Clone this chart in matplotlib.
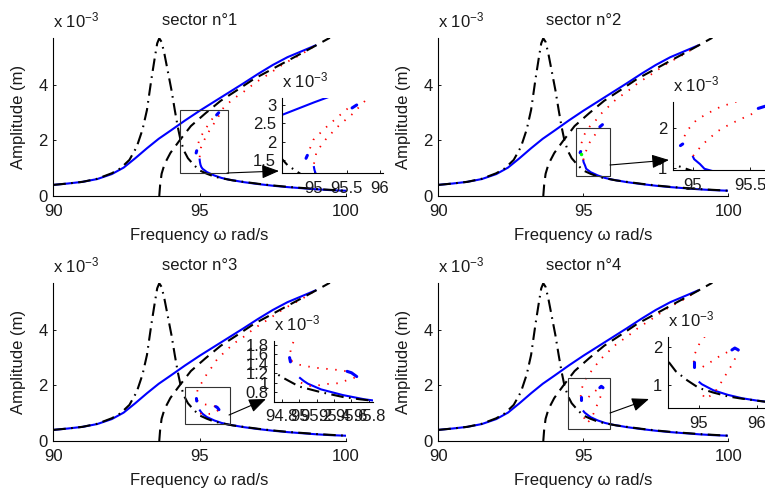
import matplotlib
matplotlib.use('Agg')
import matplotlib.pyplot as plt
from matplotlib.patches import Rectangle, FancyArrowPatch
from matplotlib.ticker import FuncFormatter

plt.rcParams['font.family'] = ['Liberation Sans', 'DejaVu Sans']
plt.rcParams['mathtext.fontset'] = 'custom'
plt.rcParams['mathtext.rm'] = 'Liberation Sans'
plt.rcParams['mathtext.default'] = 'regular'

# ---------------- data (amplitudes in units of 1e-3 m) ----------------
SECTORS = ['sector n°1', 'sector n°2', 'sector n°3', 'sector n°4']

# upper stable branch (blue)
UP_X = [90, 90.5, 91, 91.5, 92, 92.4, 92.8, 93.2, 93.6, 94, 94.5, 95, 95.5, 96, 96.5,
        97, 97.5, 98, 98.5, 98.95]
UP_Y = [0.40, 0.45, 0.51, 0.61, 0.79, 1.02, 1.36, 1.72, 2.06, 2.35, 2.72, 3.07, 3.40,
        3.73, 4.06, 4.40, 4.72, 5.00, 5.22, 5.42]

# lower stable branch (blue), common part
LOW_X = [95.1, 95.25, 95.5, 95.75, 96, 96.5, 97, 97.5, 98, 98.5, 99, 99.5, 100]
LOW_Y = [0.98, 0.86, 0.74, 0.65, 0.59, 0.50, 0.43, 0.37, 0.32, 0.28, 0.24, 0.21, 0.19]
# start of lower branch per sector
LOW0_X = [[95.0, 95.01, 95.03, 95.06], [95.0, 95.01, 95.06], [95.01, 95.05], [95.01, 95.05]]
LOW0_Y = [[1.31, 1.22, 1.12, 1.04], [1.28, 1.22, 1.10], [1.10, 1.04], [1.07, 1.02]]

# linear response (black dash-dot)
LIN_X = [90, 90.5, 91, 91.5, 92, 92.3, 92.6, 92.85, 93.05, 93.2, 93.35, 93.47, 93.55, 93.62,
         93.7, 93.8, 93.92, 94.04, 94.15, 94.25, 94.35, 94.47, 94.6, 94.8, 95.0, 95.25,
         95.5, 95.7, 96.14, 96.5, 97, 97.5, 98, 98.5, 99, 99.5, 100]
LIN_Y = [0.40, 0.45, 0.51, 0.62, 0.82, 1.0, 1.3, 1.77, 2.4, 3.1, 4.2, 5.0, 5.5, 5.68,
         5.55, 5.1, 4.45, 3.8, 3.1, 2.5, 2.0, 1.62, 1.36, 1.12, 0.92, 0.80,
         0.70, 0.65, 0.56, 0.51, 0.44, 0.38, 0.33, 0.29, 0.25, 0.22, 0.19]

# backbone (black dashed)
BB_X = [93.62, 93.65, 93.7, 93.8, 94.0, 94.3, 94.7, 95.2, 95.72, 96.29, 96.86, 97.32, 97.95, 98.5, 98.9, 99.45]
BB_Y = [0.0, 0.4, 0.8, 1.15, 1.55, 1.98, 2.52, 2.98, 3.43, 3.82, 4.22, 4.48, 4.84, 5.15, 5.38, 5.70]

# unstable branch, common upper tail (red dotted)
RED_TAIL_X = [96.15, 96.5, 96.9, 97.3, 97.9, 98.5, 98.95]
RED_TAIL_Y = [3.50, 3.75, 4.08, 4.35, 4.78, 5.12, 5.42]

# per-sector unstable branches (red dotted)
RED_A_X = [[94.89, 94.99, 95.17, 95.34, 95.55],
           [94.9, 94.94, 95.03, 95.13, 95.24, 95.38, 95.6],
           [94.91, 94.90, 94.94, 95.09, 95.25, 95.43, 95.6],
           [94.91, 94.93, 95.0, 95.1, 95.3, 95.6]]
RED_A_Y = [[1.59, 2.05, 2.37, 2.64, 2.96],
           [1.58, 1.91, 2.2, 2.37, 2.53, 2.66, 2.95],
           [1.46, 1.69, 1.89, 2.13, 2.42, 2.68, 2.95],
           [1.60, 1.82, 2.06, 2.27, 2.55, 2.95]]
RED_B_X = [[95.0, 95.04, 95.19, 95.39, 95.57, 95.82],
           [95.0, 95.02, 95.08, 95.21, 95.28, 95.37, 95.46, 95.53],
           [94.91, 95.0, 95.11, 95.22, 95.33, 95.44, 95.55],
           [94.91, 95.06, 95.21, 95.35, 95.50, 95.57]]
RED_B_Y = [[1.40, 1.73, 2.09, 2.46, 2.73, 3.19],
           [1.30, 1.37, 1.58, 1.91, 2.03, 2.16, 2.28, 2.37],
           [1.46, 1.38, 1.34, 1.31, 1.29, 1.27, 1.24],
           [1.47, 1.47, 1.61, 1.75, 1.87, 1.92]]
RED_C_X = [[], [],
           [95.02, 95.13, 95.24, 95.35, 95.46, 95.57, 95.66],
           [95.68, 95.61, 95.53, 95.44, 95.35, 95.26, 95.11, 95.02]]
RED_C_Y = [[], [],
           [1.0, 0.93, 0.95, 0.98, 0.99, 1.07, 1.12],
           [1.92, 1.64, 1.43, 1.21, 0.98, 0.78, 0.63, 0.86]]
TAIL_JOIN = ['B', 'A', 'A', 'A']

# short stable pieces (blue)
BLOB1_X = [[94.88, 94.9], [94.89, 94.91], [94.89, 94.9], [94.91, 94.91]]
BLOB1_Y = [[1.55, 1.63], [1.56, 1.60], [1.53, 1.44], [1.47, 1.60]]
BLOB2_X = [[95.58, 95.65], [95.57, 95.66], [95.55, 95.6, 95.66], [95.57, 95.62, 95.68]]
BLOB2_Y = [[2.92, 3.0], [2.49, 2.57], [1.24, 1.21, 1.13], [1.92, 1.97, 1.92]]

# green point (sector 2)
GREEN_X = [94.93]
GREEN_Y = [1.52]

# zoom boxes
BOX_X0 = [94.32, 94.76, 94.49, 94.48]
BOX_X1 = [95.96, 95.93, 96.03, 95.93]
BOX_Y0 = [0.83, 0.72, 0.61, 0.43]
BOX_Y1 = [3.10, 2.45, 1.95, 2.27]

# inset ranges and ticks
INSET_XLIM = [(94.51, 96.05), (94.825, 95.76), (94.715, 95.85), (94.466, 96.40)]
INSET_YLIM = [(1.15, 3.19), (0.95, 2.65), (0.60, 1.88), (0.395, 2.26)]
INSET_XTICKS = [[95, 95.5, 96], [95, 95.5], [94.8, 95.0, 95.2, 95.4, 95.6, 95.8], [95, 96]]
INSET_YTICKS = [[1.5, 2, 2.5, 3], [1, 2], [0.8, 1.0, 1.2, 1.4, 1.6, 1.8], [1, 2]]

MAIN_XLIM = (90, 100)
MAIN_YLIM = (0, 5.68)
MAIN_XTICKS = [90, 95, 100]
MAIN_YTICKS = [0, 2, 4]

# ---------------- layout (pixels) ----------------
W, H = 765, 493
FS = 12
TXT = '#1a1a1a'
MAIN_POS = [(53.3, 346, 38.3, 196), (438.3, 728.3, 38.3, 196),
            (53.3, 346, 283.3, 441), (438.3, 728.3, 283.3, 441)]
INSET_POS = [(281.7, 383, 98, 173), (673, 780, 102, 170),
             (274.3, 373.3, 341, 401.7), (668, 780, 337, 408)]
ARROWS = [((227, 173), (279, 171)), ((610, 165), (669, 160)),
          ((229, 415), (266, 399)), ((610, 413), (649, 399))]


def rect(l, r, t, b):
    return [l / W, 1 - b / H, (r - l) / W, (b - t) / H]


def fmt(v, pos):
    return ('%g' % round(v, 3))


def style_axes(ax, inset=False):
    for s in ['top', 'right']:
        ax.spines[s].set_visible(False)
    for s in ['left', 'bottom']:
        ax.spines[s].set_linewidth(0.8)
        ax.spines[s].set_color('black')
    ax.tick_params(direction='in', length=2.5 if not inset else 2, width=0.7,
                   labelsize=FS, colors=TXT)
    ax.tick_params(axis='x', pad=6.0 if not inset else 5.5)
    ax.tick_params(axis='y', pad=4.0)
    ax.xaxis.set_major_formatter(FuncFormatter(fmt))
    ax.yaxis.set_major_formatter(FuncFormatter(fmt))
    ax.patch.set_alpha(0)


def draw(ax, s, inset=False):
    blue = (0, 0, 1)
    red = (1, 0, 0)
    ax.plot(UP_X, UP_Y, color=blue, lw=1.5, zorder=2)
    ax.plot(LOW0_X[s] + LOW_X, LOW0_Y[s] + LOW_Y, color=blue, lw=1.5, zorder=2)
    dots = dict(color=red, lw=1.3, linestyle=(0, (0.8, 4.2)), zorder=2.3)
    ax_ = RED_A_X[s]; ay_ = RED_A_Y[s]
    bx_ = RED_B_X[s]; by_ = RED_B_Y[s]
    if TAIL_JOIN[s] == 'A':
        ax_ = ax_ + RED_TAIL_X; ay_ = ay_ + RED_TAIL_Y
    else:
        bx_ = bx_ + RED_TAIL_X; by_ = by_ + RED_TAIL_Y
    ax.plot(ax_, ay_, **dots)
    ax.plot(bx_, by_, **dots)
    if RED_C_X[s]:
        ax.plot(RED_C_X[s], RED_C_Y[s], **dots)
    ax.plot(BLOB1_X[s], BLOB1_Y[s], color=blue, lw=2.2, solid_capstyle='round', zorder=2.4)
    ax.plot(BLOB2_X[s], BLOB2_Y[s], color=blue, lw=2.2, solid_capstyle='round', zorder=2.4)
    ax.plot(LIN_X, LIN_Y, color='black', lw=1.5, linestyle=(0, (6, 2.6, 0.8, 2.6)), zorder=2.5)
    if not inset:
        ax.plot(BB_X, BB_Y, color='black', lw=1.5, linestyle=(0, (5.5, 3.2)), zorder=2.5)
        if s == 1:
            ax.plot(GREEN_X, GREEN_Y, 'o', color=(0, 1, 0), ms=2.5, mec='none', zorder=3)


fig = plt.figure(figsize=(W / 100, H / 100), dpi=100)

for s in range(4):
    l, r, t, b = MAIN_POS[s]
    ax = fig.add_axes(rect(l, r, t, b))
    draw(ax, s)
    ax.set_xlim(*MAIN_XLIM)
    ax.set_ylim(*MAIN_YLIM)
    ax.set_xticks(MAIN_XTICKS)
    ax.set_yticks(MAIN_YTICKS)
    style_axes(ax)
    hpx = b - t
    wpx = r - l
    ax.text(0, 1 + 10.6 / hpx, 'x 10$^{-3}$', transform=ax.transAxes, ha='left',
            va='baseline', fontsize=FS, color=TXT)
    ax.text(0.5, 1 + 13.3 / hpx, SECTORS[s], transform=ax.transAxes, ha='center',
            va='baseline', fontsize=FS, color=TXT)
    ax.text(-34.5 / wpx, 0.5, 'Amplitude (m)', transform=ax.transAxes, rotation=90,
            ha='center', va='center', fontsize=FS, color=TXT)
    ax.text(0.5, -44 / hpx, 'Frequency ω rad/s', transform=ax.transAxes, ha='center',
            va='baseline', fontsize=FS, color=TXT)
    ax.add_patch(Rectangle((BOX_X0[s], BOX_Y0[s]), BOX_X1[s] - BOX_X0[s],
                           BOX_Y1[s] - BOX_Y0[s], fill=False, ec='#333333', lw=0.8, zorder=4))

for s in range(4):
    l, r, t, b = INSET_POS[s]
    ax = fig.add_axes(rect(l, r, t, b))
    draw(ax, s, inset=True)
    ax.set_xlim(*INSET_XLIM[s])
    ax.set_ylim(*INSET_YLIM[s])
    ax.set_xticks(INSET_XTICKS[s])
    ax.set_yticks(INSET_YTICKS[s])
    style_axes(ax, inset=True)
    hpx = b - t
    ax.text(0, 1 + 11 / hpx, 'x 10$^{-3}$', transform=ax.transAxes, ha='left',
            va='baseline', fontsize=FS, color=TXT)

for (x1, y1), (x2, y2) in ARROWS:
    arr = FancyArrowPatch((x1 / W, 1 - y1 / H), (x2 / W, 1 - y2 / H),
                          transform=fig.transFigure,
                          arrowstyle='-|>,head_length=0.75,head_width=0.3',
                          mutation_scale=14, lw=0.8, color='black',
                          shrinkA=0, shrinkB=0)
    fig.add_artist(arr)

fig.savefig('out.png', dpi=100)
